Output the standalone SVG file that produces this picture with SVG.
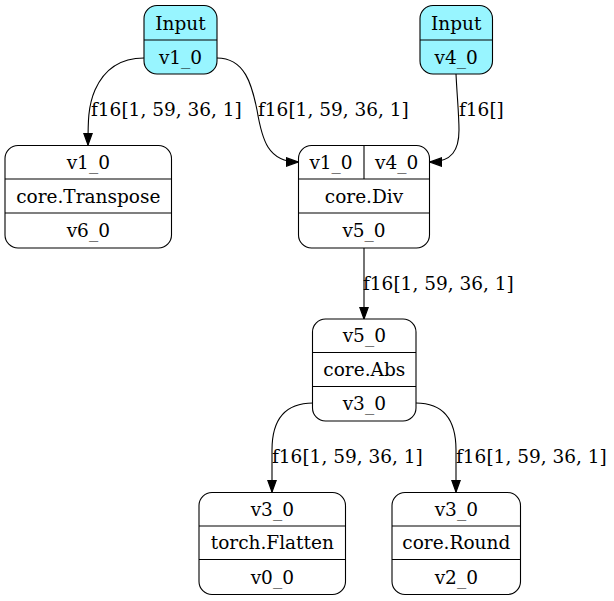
<svg xmlns="http://www.w3.org/2000/svg" width="614" height="601" viewBox="0 0 614 601">
  <style>
    .box { fill: #ffffff; stroke: #000000; stroke-width: 1.1; }
    .input { fill: #98f5ff; }
    .sep { stroke: #000000; stroke-width: 1.1; }
    text { font-family: "DejaVu Serif", "Liberation Serif", serif; font-size: 18.5px; fill: #000000; }
    .c { text-anchor: middle; }
    .edge { fill: none; stroke: #000000; stroke-width: 1.1; }
  </style>
  <defs>
    <marker id="arrow" markerUnits="userSpaceOnUse" markerWidth="12" markerHeight="10" viewBox="-10 -4 10 8" refX="0" refY="0" orient="auto">
      <polygon points="-10,-3.6 0,0 -10,3.6" fill="#000000" stroke="#000000" stroke-width="1"/>
    </marker>
  </defs>

  <rect width="614" height="601" fill="#ffffff"/>

  <!-- connectors -->
  <g id="edges">
    <path class="edge" marker-end="url(#arrow)" d="M144,58 C118,58 103,72 95,90 C88,106 88,122 88,145"/>
    <text x="91" y="116">f16[1, 59, 36, 1]</text>

    <path class="edge" marker-end="url(#arrow)" d="M217,58 C245,58 252,85 257,110 C262,140 268,162 298,162"/>
    <text x="258" y="116">f16[1, 59, 36, 1]</text>

    <path class="edge" marker-end="url(#arrow)" d="M456,74 C457,95 459,115 459,130 C459,150 452,162 430,162"/>
    <text x="459" y="116">f16[]</text>

    <path class="edge" marker-end="url(#arrow)" d="M364,248 L364,319"/>
    <text x="363" y="290">f16[1, 59, 36, 1]</text>

    <path class="edge" marker-end="url(#arrow)" d="M313,403 C285,403 272,420 272,450 L272,492"/>
    <text x="272" y="463">f16[1, 59, 36, 1]</text>

    <path class="edge" marker-end="url(#arrow)" d="M416,403 C444,403 456,420 456,450 L456,492"/>
    <text x="456" y="463">f16[1, 59, 36, 1]</text>
  </g>

  <!-- input v1_0 -->
  <g id="input_v1_0">
    <rect class="box input" x="144" y="5.5" width="73" height="68.5" rx="13"/>
    <line class="sep" x1="144" y1="40" x2="217" y2="40"/>
    <text class="c" x="180.5" y="29.5">Input</text>
    <text class="c" x="180.5" y="63.5">v1_0</text>
  </g>

  <!-- input v4_0 -->
  <g id="input_v4_0">
    <rect class="box input" x="420" y="5.5" width="72.5" height="68.5" rx="13"/>
    <line class="sep" x1="420" y1="40" x2="492.5" y2="40"/>
    <text class="c" x="456.2" y="29.5">Input</text>
    <text class="c" x="456.2" y="63.5">v4_0</text>
  </g>

  <!-- core.Transpose -->
  <g id="transpose">
    <rect class="box" x="5" y="145.5" width="166.5" height="102.5" rx="13"/>
    <line class="sep" x1="5" y1="179" x2="171.5" y2="179"/>
    <line class="sep" x1="5" y1="213" x2="171.5" y2="213"/>
    <text class="c" x="88.3" y="168.5">v1_0</text>
    <text class="c" x="88.3" y="202.5">core.Transpose</text>
    <text class="c" x="88.3" y="236.5">v6_0</text>
  </g>

  <!-- core.Div -->
  <g id="div">
    <rect class="box" x="298.5" y="145.5" width="131" height="102.5" rx="13"/>
    <line class="sep" x1="364" y1="145.5" x2="364" y2="179"/>
    <line class="sep" x1="298.5" y1="179" x2="429.5" y2="179"/>
    <line class="sep" x1="298.5" y1="213" x2="429.5" y2="213"/>
    <text class="c" x="331" y="168.5">v1_0</text>
    <text class="c" x="396.7" y="168.5">v4_0</text>
    <text class="c" x="364" y="202.5">core.Div</text>
    <text class="c" x="364" y="236.5">v5_0</text>
  </g>

  <!-- core.Abs -->
  <g id="abs">
    <rect class="box" x="312.5" y="319" width="103.5" height="102" rx="13"/>
    <line class="sep" x1="312.5" y1="352.5" x2="416" y2="352.5"/>
    <line class="sep" x1="312.5" y1="386.5" x2="416" y2="386.5"/>
    <text class="c" x="364.3" y="342">v5_0</text>
    <text class="c" x="364.3" y="376">core.Abs</text>
    <text class="c" x="364.3" y="410">v3_0</text>
  </g>

  <!-- torch.Flatten -->
  <g id="flatten">
    <rect class="box" x="199" y="492.5" width="146.5" height="102" rx="13"/>
    <line class="sep" x1="199" y1="526" x2="345.5" y2="526"/>
    <line class="sep" x1="199" y1="559.5" x2="345.5" y2="559.5"/>
    <text class="c" x="272.3" y="515.5">v3_0</text>
    <text class="c" x="272.3" y="549">torch.Flatten</text>
    <text class="c" x="272.3" y="583.5">v0_0</text>
  </g>

  <!-- core.Round -->
  <g id="round">
    <rect class="box" x="392" y="492.5" width="128.5" height="102" rx="13"/>
    <line class="sep" x1="392" y1="526" x2="520.5" y2="526"/>
    <line class="sep" x1="392" y1="559.5" x2="520.5" y2="559.5"/>
    <text class="c" x="456.3" y="515.5">v3_0</text>
    <text class="c" x="456.3" y="549">core.Round</text>
    <text class="c" x="456.3" y="583.5">v2_0</text>
  </g>
</svg>
